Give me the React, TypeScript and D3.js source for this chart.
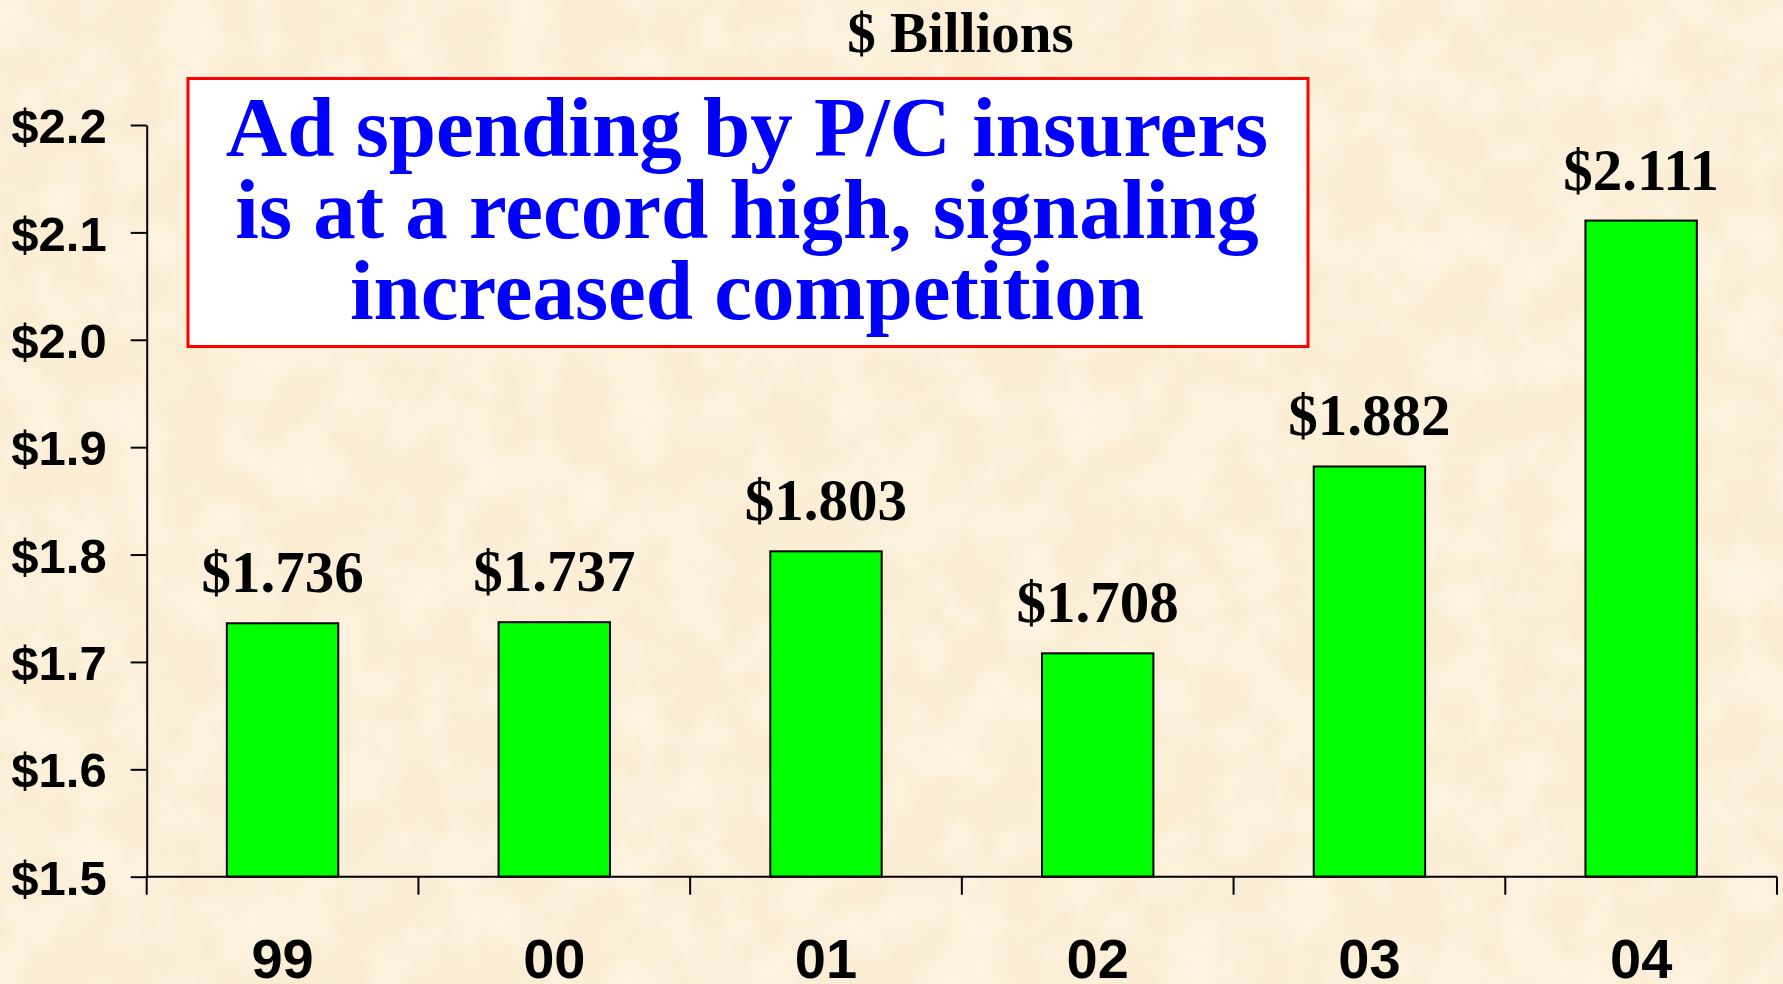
import { useEffect, useRef } from "react";
import * as d3 from "d3";

// values ($ billions)
const years = ["99", "00", "01", "02", "03", "04"];
const spending = [1.736, 1.737, 1.803, 1.708, 1.882, 2.111];
const yTicks = [1.5, 1.6, 1.7, 1.8, 1.9, 2.0, 2.1, 2.2];
const unitLabel = "$ Billions";
const headline = [
  "Ad spending by P/C insurers",
  "is at a record high, signaling",
  "increased competition",
];

const W = 1783;
const H = 984;
const SERIF = '"Liberation Serif", "Times New Roman", serif';
const SANS = '"Liberation Sans", Arial, sans-serif';

export default function App() {
  const ref = useRef<SVGSVGElement>(null);

  useEffect(() => {
    const svg = d3.select(ref.current);
    svg.selectAll("*").remove();

    const margin = { top: 125, right: 6, bottom: 107.3, left: 146.7 };

    // parchment background
    const defs = svg.append("defs");
    const light = defs.append("filter").attr("id", "mottleLight")
      .attr("x", 0).attr("y", 0).attr("width", "100%").attr("height", "100%");
    light.append("feTurbulence").attr("type", "fractalNoise")
      .attr("baseFrequency", 0.018).attr("numOctaves", 4).attr("seed", 4);
    light.append("feColorMatrix").attr("type", "matrix")
      .attr("values", "0 0 0 0 1  0 0 0 0 0.975  0 0 0 0 0.92  1.6 0 0 0 -0.62");
    const dark = defs.append("filter").attr("id", "mottleDark")
      .attr("x", 0).attr("y", 0).attr("width", "100%").attr("height", "100%");
    dark.append("feTurbulence").attr("type", "fractalNoise")
      .attr("baseFrequency", 0.03).attr("numOctaves", 3).attr("seed", 11);
    dark.append("feColorMatrix").attr("type", "matrix")
      .attr("values", "0 0 0 0 0.93  0 0 0 0 0.86  0 0 0 0 0.7  1.2 0 0 0 -0.5");

    svg.append("rect").attr("width", W).attr("height", H).attr("fill", "#fbeed5");
    svg.append("rect").attr("width", W).attr("height", H).attr("filter", "url(#mottleDark)").attr("opacity", 0.3);
    svg.append("rect").attr("width", W).attr("height", H).attr("filter", "url(#mottleLight)").attr("opacity", 0.55);

    const x = d3.scaleBand<string>()
      .domain(years)
      .range([margin.left, W - margin.right])
      .paddingInner(0.59)
      .paddingOuter(0.295);

    const y = d3.scaleLinear()
      .domain([1.5, 2.2])
      .range([H - margin.bottom, margin.top]);

    const base = y(1.5);

    // y axis
    const yAxis = svg.append("g")
      .attr("transform", `translate(${margin.left},0)`)
      .call(
        d3.axisLeft(y)
          .tickValues(yTicks)
          .tickSize(16)
          .tickSizeOuter(0)
          .tickPadding(24)
          .tickFormat(d => `$${(+d).toFixed(1)}`)
      );
    yAxis.selectAll("path, line").attr("stroke", "#000").attr("stroke-width", 2);
    yAxis.selectAll("text")
      .attr("fill", "#000")
      .attr("font-family", SANS)
      .attr("font-weight", "bold")
      .attr("font-size", 49)
      .attr("dy", "0.36em");

    // bars
    svg.append("g")
      .selectAll("rect")
      .data(spending)
      .join("rect")
      .attr("x", (d, i) => x(years[i])!)
      .attr("y", d => y(d))
      .attr("width", x.bandwidth())
      .attr("height", d => base - y(d))
      .attr("fill", "#00ff00")
      .attr("stroke", "#000")
      .attr("stroke-width", 2);

    // value labels
    svg.append("g")
      .selectAll("text")
      .data(spending)
      .join("text")
      .attr("x", (d, i) => x(years[i])! + x.bandwidth() / 2)
      .attr("y", d => y(d) - 31)
      .attr("text-anchor", "middle")
      .attr("font-family", SERIF)
      .attr("font-weight", "bold")
      .attr("font-size", 59)
      .attr("fill", "#000")
      .text(d => `$${d.toFixed(3)}`);

    // x axis: line plus ticks at the category boundaries
    const [x0, x1] = x.range();
    const bounds = d3.range(years.length + 1).map(i => x0 + i * x.step());
    const xAxis = svg.append("g");
    xAxis.append("line")
      .attr("x1", x0).attr("x2", x1)
      .attr("y1", base).attr("y2", base)
      .attr("stroke", "#000").attr("stroke-width", 2);
    xAxis.selectAll(".tick")
      .data(bounds)
      .join("line")
      .attr("class", "tick")
      .attr("x1", d => d).attr("x2", d => d)
      .attr("y1", base).attr("y2", base + 18)
      .attr("stroke", "#000").attr("stroke-width", 2);
    xAxis.selectAll(".lbl")
      .data(years)
      .join("text")
      .attr("class", "lbl")
      .attr("x", d => x(d)! + x.bandwidth() / 2)
      .attr("y", 978)
      .attr("text-anchor", "middle")
      .attr("font-family", SANS)
      .attr("font-weight", "bold")
      .attr("font-size", 56)
      .attr("fill", "#000")
      .text(d => d);

    // unit label
    svg.append("text")
      .attr("x", 960.5)
      .attr("y", 51.5)
      .attr("text-anchor", "middle")
      .attr("font-family", SERIF)
      .attr("font-weight", "bold")
      .attr("font-size", 57)
      .attr("fill", "#000")
      .text(unitLabel);

    // headline box
    svg.append("rect")
      .attr("x", 188).attr("y", 78.5)
      .attr("width", 1120).attr("height", 268)
      .attr("fill", "#fff")
      .attr("stroke", "#ff0000")
      .attr("stroke-width", 3);
    svg.append("g")
      .selectAll("text")
      .data(headline)
      .join("text")
      .attr("x", 747)
      .attr("y", (d, i) => 156 + i * 81.5)
      .attr("text-anchor", "middle")
      .attr("font-family", SERIF)
      .attr("font-weight", "bold")
      .attr("font-size", 85)
      .attr("fill", "#0000ff")
      .text(d => d);
  }, []);

  return (
    <svg
      ref={ref}
      width={W}
      height={H}
      style={{ position: "absolute", top: 0, left: 0, display: "block" }}
    />
  );
}
